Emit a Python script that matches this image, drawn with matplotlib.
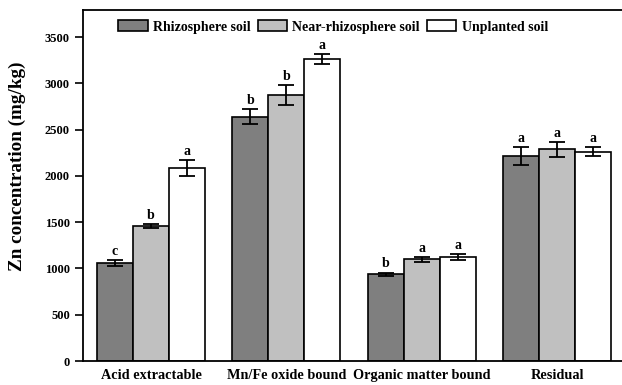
import numpy as np
import matplotlib
matplotlib.use('Agg')
from matplotlib import pyplot as plt

plt.rcParams['font.family'] = ['Liberation Serif', 'DejaVu Serif']
plt.rcParams['font.weight'] = 'bold'

fractions = ['Acid extractable', 'Mn/Fe oxide bound', 'Organic matter bound', 'Residual']
soils = ['Rhizosphere soil', 'Near-rhizosphere soil', 'Unplanted soil']
rhizo = [1060, 2640, 936, 2214]
rhizo_err = [30, 80, 20, 100]
near = [1458, 2875, 1098, 2286]
near_err = [22, 105, 25, 85]
unplanted = [2088, 3260, 1120, 2262]
unplanted_err = [88, 52, 32, 45]
rhizo_sig = ['c', 'b', 'b', 'a']
near_sig = ['b', 'b', 'a', 'a']
unplanted_sig = ['a', 'a', 'a', 'a']

colors = ['#7f7f7f', '#c0c0c0', '#ffffff']

fig = plt.figure(figsize=(6.22, 3.85), dpi=100)
ax = fig.add_axes([0.1334, 0.0623, 0.8666, 0.9117])

x = np.arange(len(fractions))
w = 0.266
series = [(rhizo, rhizo_err, rhizo_sig), (near, near_err, near_sig), (unplanted, unplanted_err, unplanted_sig)]
for i, (vals, errs, sig) in enumerate(series):
    pos = x + (i - 1) * w
    ax.bar(pos, vals, w, color=colors[i], edgecolor='black', linewidth=1.2, label=soils[i],
           yerr=errs, capsize=5.5, error_kw=dict(elinewidth=1.3, capthick=1.3, ecolor='black'))
    for p, v, e, s in zip(pos, vals, errs, sig):
        ax.text(p, v + e + 22, s, ha='center', va='bottom', fontsize=10, fontweight='bold')

ax.set_xlim(-0.503, 3.48)
ax.set_ylim(0, 3792)
ax.set_yticks(np.arange(0, 3501, 500))
ax.set_xticks(x)
ax.set_xticklabels(fractions, fontsize=10.3, fontweight='bold')
ax.tick_params(axis='x', length=0, pad=6)
ax.tick_params(axis='y', direction='out', length=6, width=1.2, labelsize=9)
for lab in ax.get_yticklabels():
    lab.set_fontweight('bold')
ax.set_ylabel('Zn concentration (mg/kg)', fontsize=13.8, fontweight='bold')
ax.yaxis.set_label_coords(-0.106, 0.555)
for sp in ['left', 'top', 'bottom']:
    ax.spines[sp].set_linewidth(1.3)
ax.spines['right'].set_visible(False)

ax.legend(loc='upper center', bbox_to_anchor=(0.464, 1.0), ncol=3, frameon=False,
          fontsize=10, handlelength=2.1, handleheight=0.8, columnspacing=0.5,
          handletextpad=0.4, borderaxespad=0.35)

fig.savefig('out.png', dpi=100)
